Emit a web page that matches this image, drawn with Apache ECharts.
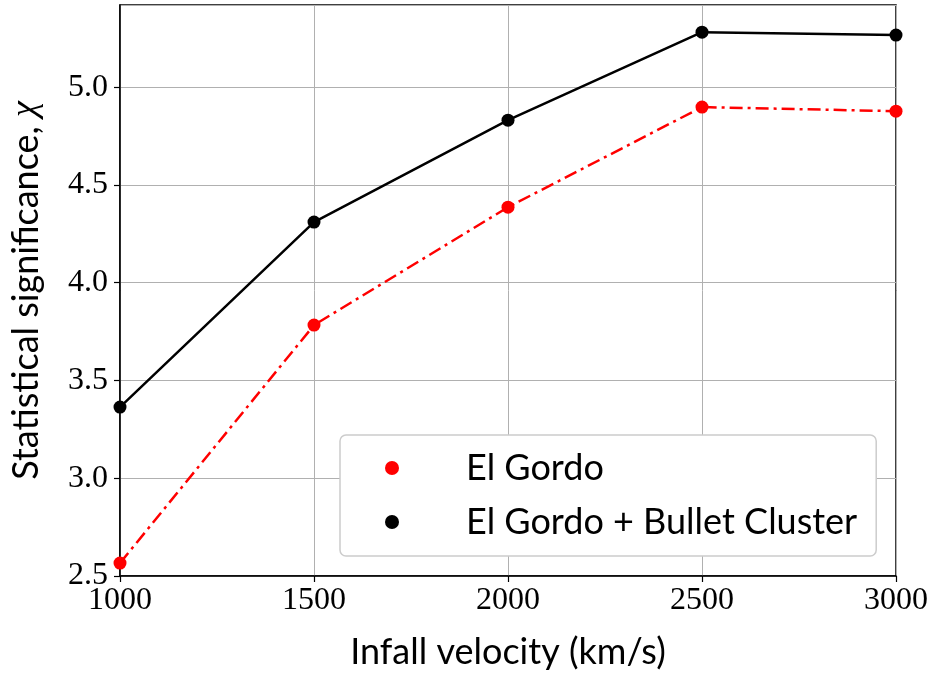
<!DOCTYPE html>
<html>
<head>
<meta charset="utf-8">
<script src="https://cdn.jsdelivr.net/npm/echarts@6/dist/echarts.min.js"></script>
<style>
  html, body { margin: 0; padding: 0; background: #fff; }
  #chart { width: 935px; height: 673px; }
</style>
</head>
<body>
<div id="chart"></div>
<script>
// Infall velocity (km/s)
const velocities = [1000, 1500, 2000, 2500, 3000];
// Statistical significance for each data combination
const elGordo = [2.566, 3.783, 4.386, 4.898, 4.877];
const elGordoBullet = [3.364, 4.310, 4.831, 5.281, 5.266];
const seriesNames = ['El Gordo', 'El Gordo + Bullet Cluster'];

const toPairs = (xs, ys) => xs.map((x, i) => [x, ys[i]]);

const serif = '"Liberation Serif", "DejaVu Serif", serif';
const sans = 'Lato, "Open Sans", sans-serif';

const chart = echarts.init(document.getElementById('chart'), null, { renderer: 'canvas' });
chart.setOption({
  backgroundColor: '#ffffff',
  animation: false,
  grid: {
    left: 120, right: 39, top: 5, bottom: 97,
    outerBoundsMode: 'none', containLabel: false,
    show: true, borderColor: '#000', borderWidth: 1.5, backgroundColor: 'transparent'
  },
  xAxis: {
    type: 'value', min: 1000, max: 3000, interval: 500,
    name: 'Infall velocity (km/s)', nameLocation: 'middle', nameGap: 58,
    nameTextStyle: { fontFamily: sans, fontSize: 36, color: '#000' },
    axisLine: { show: true, lineStyle: { color: '#000', width: 1.5 } },
    axisTick: { show: true, length: 6, lineStyle: { color: '#000', width: 1.2 } },
    axisLabel: { fontFamily: serif, fontSize: 32, color: '#000', margin: 9, formatter: v => String(v) },
    splitLine: { show: true, lineStyle: { color: '#b0b0b0', width: 1 } }
  },
  yAxis: {
    type: 'value', min: 2.5, max: 5.42, interval: 0.5,
    name: '{t|Statistical significance, }{chi|χ}', nameLocation: 'middle', nameGap: 76,
    nameTextStyle: {
      fontFamily: sans, fontSize: 36, color: '#000',
      rich: {
        t: { fontFamily: sans, fontSize: 36, color: '#000' },
        chi: { fontFamily: serif, fontStyle: 'italic', fontSize: 36, color: '#000' }
      }
    },
    axisLine: { show: true, lineStyle: { color: '#000', width: 1.5 } },
    axisTick: { show: true, length: 6, lineStyle: { color: '#000', width: 1.2 } },
    axisLabel: {
      fontFamily: serif, fontSize: 32, color: '#000', margin: 12,
      showMaxLabel: false,
      formatter: v => v.toFixed(1)
    },
    splitLine: { show: true, lineStyle: { color: '#b0b0b0', width: 1 } }
  },
  legend: {
    orient: 'vertical', left: 340, top: 435,
    data: seriesNames,
    icon: 'circle', itemWidth: 14, itemHeight: 14, itemGap: 18,
    padding: [15, 19, 16, 45],
    backgroundColor: '#fff', borderColor: '#cccccc', borderWidth: 1.5, borderRadius: 6,
    textStyle: { fontFamily: sans, fontSize: 36, color: '#000', lineHeight: 36, padding: [0, 0, 0, 62] }
  },
  series: [
    {
      name: seriesNames[0], type: 'line', data: toPairs(velocities, elGordo),
      symbol: 'circle', symbolSize: 13, color: '#ff0000',
      itemStyle: { color: '#ff0000' },
      lineStyle: { color: '#ff0000', width: 2.5, type: [13, 5, 3, 5] },
      z: 3
    },
    {
      name: seriesNames[1], type: 'line', data: toPairs(velocities, elGordoBullet),
      symbol: 'circle', symbolSize: 13, color: '#000000',
      itemStyle: { color: '#000000' },
      lineStyle: { color: '#000000', width: 2.5, type: 'solid' },
      z: 4
    }
  ]
});
</script>
</body>
</html>
